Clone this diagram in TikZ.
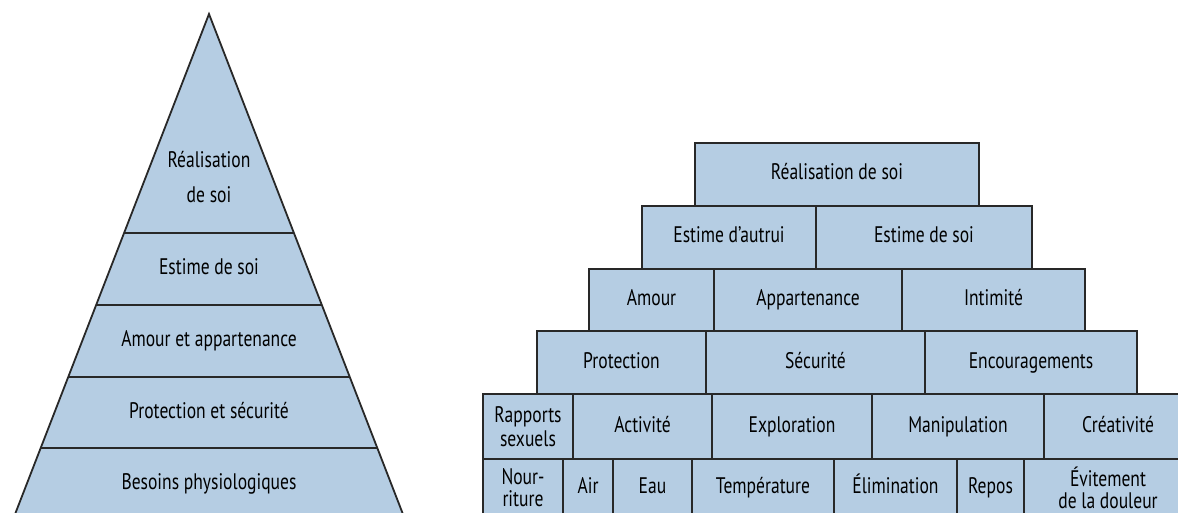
\documentclass[tikz,border=0pt]{standalone}
\usepackage{fontspec}
\setmainfont{PT Sans}[FakeStretch=0.78]
\definecolor{boxfill}{RGB}{181,205,227}
\definecolor{edge}{RGB}{40,40,40}
\newcommand\mkcell[7][]{%
  \pgfmathsetmacro\cw{#4-#3}\pgfmathsetmacro\ch{#6-#5}%
  \node[cell, #1, minimum width=\cw pt, minimum height=\ch pt] (#2) at ({(#3+#4)/2},{(#5+#6)/2}) {#7};}
\begin{document}
\begin{tikzpicture}[x=1pt,y=-1pt,
  cell/.style={draw=edge, fill=boxfill, line width=1.8pt, inner sep=0pt, outer sep=0pt, align=center,
     font=\fontsize{22.5}{24}\selectfont, text height=16pt, text depth=5pt},
  twoline/.style={text height=, text depth=},
  tight/.style={twoline, font=\fontsize{22.5}{22}\selectfont},
  lbl/.style={align=center, font=\fontsize{22.5}{35}\selectfont, inner sep=0pt},
  lbl1/.style={lbl, text height=16pt, text depth=5pt},
  pyr/.style={draw=edge, line width=1.8pt, line join=miter},
  level/.style={draw=edge, line width=1.8pt}]
\useasboundingbox (0,0) rectangle (1178,513);
\clip (0,0) rectangle (1178,513);
% ---------- left pyramid ----------
\coordinate (apex) at (209,14);
\coordinate (bl) at (12,522);
\coordinate (br) at (406,522);
\fill[boxfill] (apex) -- (br) -- (bl) -- cycle;
\begin{scope}
  \clip (apex) -- (br) -- (bl) -- cycle;
  \foreach \yy in {233,305,377,448} {\draw[level] (0,\yy) -- (420,\yy);}
\end{scope}
\draw[pyr] (bl) -- (apex) -- (br);
\node[lbl] (p1) at (209,177) {Réalisation\\de soi};
\node[lbl1] (p2) at (209,269) {Estime de soi};
\node[lbl1] (p3) at (209,341) {Amour et appartenance};
\node[lbl1] (p4) at (209,413) {Protection et sécurité};
\node[lbl1] (p5) at (209,484) {Besoins physiologiques};
% ---------- right stacked boxes ----------
\mkcell{r1}{695}{979}{143}{206}{Réalisation de soi}
\mkcell{r2a}{642}{816}{206}{269}{Estime d’autrui}
\mkcell{r2b}{816}{1032}{206}{269}{Estime de soi}
\mkcell{r3a}{589}{714}{269}{331}{Amour}
\mkcell{r3b}{714}{902}{269}{331}{Appartenance}
\mkcell{r3c}{902}{1085}{269}{331}{Intimité}
\mkcell{r4a}{537}{706}{331}{394}{Protection}
\mkcell{r4b}{706}{925}{331}{394}{Sécurité}
\mkcell{r4c}{925}{1137}{331}{394}{Encouragements}
\mkcell[twoline]{r5a}{483}{573}{394}{459}{Rapports\\sexuels}
\mkcell{r5b}{573}{712}{394}{459}{Activité}
\mkcell{r5c}{712}{872}{394}{459}{Exploration}
\mkcell{r5d}{872}{1044}{394}{459}{Manipulation}
\mkcell{r5e}{1044}{1192}{394}{459}{Créativité}
\mkcell[tight]{r6a}{483}{563}{459}{516}{Nour-\\riture}
\mkcell{r6b}{563}{613}{459}{516}{Air}
\mkcell{r6c}{613}{692}{459}{516}{Eau}
\mkcell{r6d}{692}{834}{459}{516}{Température}
\mkcell{r6e}{834}{957}{459}{516}{Élimination}
\mkcell{r6f}{957}{1024}{459}{516}{Repos}
\mkcell[tight]{r6g}{1024}{1192}{459}{516}{Évitement\\de la douleur}
\end{tikzpicture}
\end{document}
